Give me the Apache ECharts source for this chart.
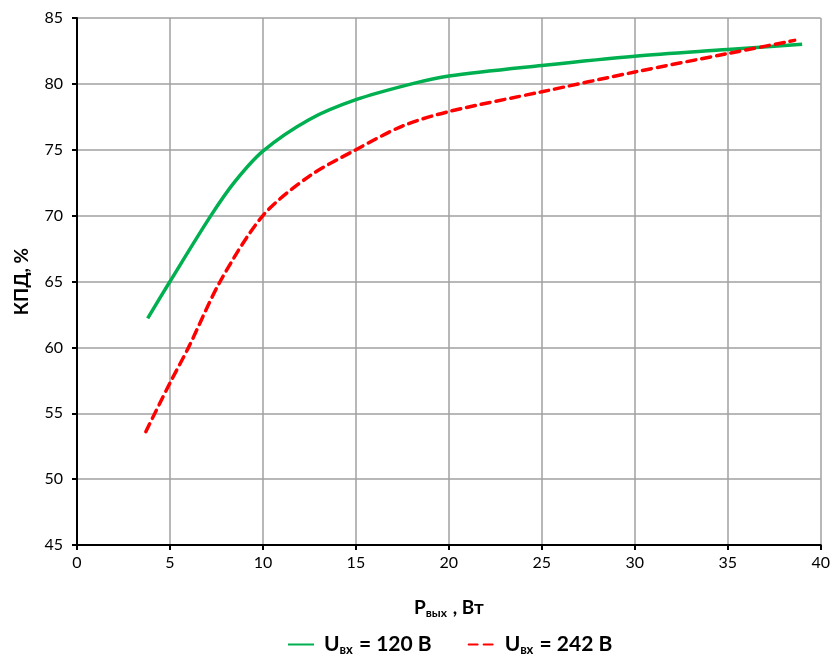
<!DOCTYPE html>
<html><head><meta charset="utf-8">
<script src="https://cdn.jsdelivr.net/npm/echarts@6/dist/echarts.min.js"></script>
<style>html,body{margin:0;padding:0;background:#fff}#c{width:833px;height:659px}</style>
</head><body><div id="c"></div>
<script>
const seriesNames = ['U_120', 'U_242'];
const green120 = [[3.8,62.2],[5,65],[7.2,70],[8.5,72.6],[10,74.9],[12.5,77.3],[15,78.8],[18,80],[20,80.6],[25,81.4],[30,82.1],[35,82.6],[39,83.0]];
const red242 = [[3.7,53.6],[5,57.3],[6,60],[7.7,65],[10,70],[12.5,73.0],[15,75],[17.5,76.8],[20,77.9],[25,79.4],[30,80.9],[35,82.3],[38.6,83.3]];
const xTicks = [0,5,10,15,20,25,30,35,40];
const yTicks = [45,50,55,60,65,70,75,80,85];

const font = 'Lato, "Open Sans", sans-serif';
const chart = echarts.init(document.getElementById('c'));
const mkRich = (big, small, lead) => ({
  a: {fontFamily: font, fontWeight: 'bold', fontSize: big, color: '#000', lineHeight: 26, verticalAlign: 'middle', padding: [0,0,0,lead]},
  b: {fontFamily: font, fontWeight: 'bold', fontSize: big, color: '#000', lineHeight: 26, verticalAlign: 'middle'},
  s: {fontFamily: font, fontWeight: 'bold', fontSize: small, color: '#000', lineHeight: 26, verticalAlign: 'middle', padding: [10,1,0,0]}
});
chart.setOption({
  animation: false,
  grid: {left: 77, right: 11, top: 18, bottom: 114, containLabel: false},
  xAxis: {
    type: 'value', min: 0, max: 40, interval: 5,
    axisLine: {show: true, onZero: false, lineStyle: {color: '#000', width: 2}},
    axisTick: {show: true, length: 5, lineStyle: {color: '#000', width: 2}},
    axisLabel: {fontFamily: font, fontSize: 16, color: '#000', margin: 10},
    splitLine: {show: true, lineStyle: {color: '#a0a0a0', width: 1.5}},
    name: '{a|P}{s|вых}{b| , Вт}', nameLocation: 'middle', nameGap: 50,
    nameTextStyle: {rich: mkRich(19, 12, 0)}
  },
  yAxis: {
    type: 'value', min: 45, max: 85, interval: 5,
    axisLine: {show: true, lineStyle: {color: '#000', width: 2}},
    axisTick: {show: true, length: 5, lineStyle: {color: '#000', width: 2}},
    axisLabel: {fontFamily: font, fontSize: 16, color: '#000', margin: 14},
    splitLine: {show: true, lineStyle: {color: '#a0a0a0', width: 1.5}},
    name: 'КПД, %', nameLocation: 'middle', nameGap: 46,
    nameTextStyle: {fontFamily: font, fontWeight: 'bold', fontSize: 19, color: '#000'}
  },
  legend: {
    top: 628, left: 282, itemWidth: 26, itemHeight: 14, itemGap: 36,
    data: seriesNames,
    itemStyle: {opacity: 0},
    formatter: function (n) {
      return n === 'U_120' ? '{a|U}{s|вх}{b| = 120 В}' : '{a|U}{s|вх}{b| = 242 В}';
    },
    textStyle: {rich: mkRich(21, 13, 5)}
  },
  series: [
    {name: 'U_120', type: 'line', data: green120, smooth: 0.3, showSymbol: false, symbol: 'none',
     lineStyle: {color: '#00b050', width: 3.5}, itemStyle: {color: '#00b050'}},
    {name: 'U_242', type: 'line', data: red242, smooth: 0.3, showSymbol: false, symbol: 'none',
     lineStyle: {color: '#ff0000', width: 3.5, type: [9, 6], cap: 'round'}, itemStyle: {color: '#ff0000'}}
  ]
});
</script></body></html>
